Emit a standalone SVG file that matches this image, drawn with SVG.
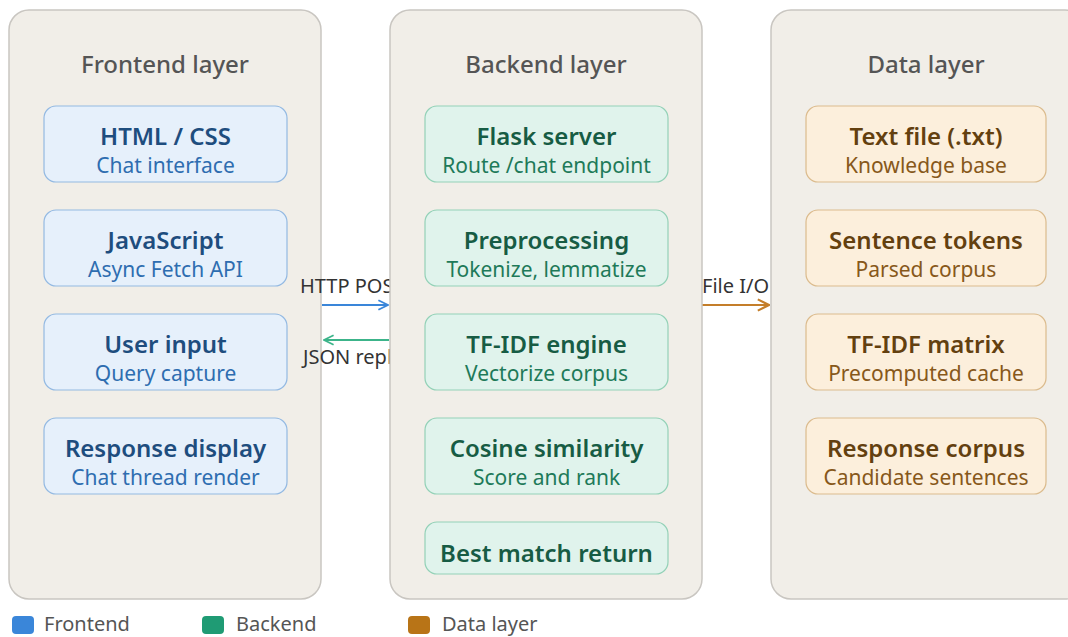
<svg xmlns="http://www.w3.org/2000/svg" width="1068" height="637" viewBox="0 0 1068 637">
<defs>
<style>
text{font-family:"Noto Sans","Liberation Sans",sans-serif;text-anchor:middle;dominant-baseline:central}
.panel{fill:#f1eee8;stroke:#c9c6c1;stroke-width:1.5}
.ptitle{font-size:24px;fill:#555;font-weight:500}
.fe rect{fill:#e6f0fb;stroke:#93b9e2;stroke-width:1.2}
.fe .t{fill:#1e4d7e;font-size:24px;font-weight:600}
.fe .s{fill:#2e6db0;font-size:21px}
.be rect{fill:#e0f3ec;stroke:#93d1b7;stroke-width:1.2}
.be .t{fill:#175c44;font-size:24px;font-weight:600}
.be .s{fill:#1e7a59;font-size:21px}
.dl rect{fill:#fcefdc;stroke:#dbbb8d;stroke-width:1.2}
.dl .t{fill:#63400f;font-size:24px;font-weight:600}
.dl .s{fill:#87581a;font-size:21px}
.lbl{font-size:20px;fill:#333;text-anchor:start}
.leg{font-size:20px;fill:#555;text-anchor:start}
</style>
<marker id="ab" viewBox="0 0 10 10" refX="9" refY="5" markerWidth="12" markerHeight="12" markerUnits="userSpaceOnUse" orient="auto"><path d="M1,1 L9,5 L1,9" fill="none" stroke="#3a86d9" stroke-width="1.5"/></marker>
<marker id="ag" viewBox="0 0 10 10" refX="9" refY="5" markerWidth="12" markerHeight="12" markerUnits="userSpaceOnUse" orient="auto"><path d="M1,1 L9,5 L1,9" fill="none" stroke="#3cb48a" stroke-width="1.5"/></marker>
<marker id="ao" viewBox="0 0 10 10" refX="9" refY="5" markerWidth="14" markerHeight="14" markerUnits="userSpaceOnUse" orient="auto"><path d="M1,1 L9,5 L1,9" fill="none" stroke="#c47e2a" stroke-width="1.5"/></marker>
</defs>
<rect width="1068" height="637" fill="#fff"/>
<g id="frontend-layer">
<rect class="panel" x="9" y="10" width="312" height="589" rx="20"/>
<text class="ptitle" x="165" y="63">Frontend layer</text>
</g>
<g id="connectors">
<text class="lbl" x="300" y="285">HTTP POST</text>
<text class="lbl" x="303" y="356">JSON reply</text>
<line x1="322" y1="305" x2="388" y2="305" stroke="#3a86d9" stroke-width="1.8" marker-end="url(#ab)"/>
<line x1="389" y1="340" x2="324" y2="340" stroke="#3cb48a" stroke-width="1.8" marker-end="url(#ag)"/>
<line x1="702" y1="305" x2="769" y2="305" stroke="#c47e2a" stroke-width="1.8" marker-end="url(#ao)"/>
</g>
<g id="backend-layer">
<rect class="panel" x="390" y="10" width="312" height="589" rx="20"/>
<text class="ptitle" x="546" y="63">Backend layer</text>
</g>
<g id="data-layer">
<rect class="panel" x="771" y="10" width="314" height="589" rx="20"/>
<text class="ptitle" x="926" y="63">Data layer</text>
</g>
<g id="file-io-label">
<text class="lbl" x="702" y="285">File I/O</text>
</g>
<g id="html-css" class="fe"><rect x="44" y="106" width="243" height="76" rx="12"/><text class="t" x="165.5" y="135">HTML / CSS</text><text class="s" x="165.5" y="165">Chat interface</text></g>
<g id="javascript" class="fe"><rect x="44" y="210" width="243" height="76" rx="12"/><text class="t" x="165.5" y="239">JavaScript</text><text class="s" x="165.5" y="269">Async Fetch API</text></g>
<g id="user-input" class="fe"><rect x="44" y="314" width="243" height="76" rx="12"/><text class="t" x="165.5" y="343">User input</text><text class="s" x="165.5" y="373">Query capture</text></g>
<g id="response-display" class="fe"><rect x="44" y="418" width="243" height="76" rx="12"/><text class="t" x="165.5" y="447">Response display</text><text class="s" x="165.5" y="477">Chat thread render</text></g>
<g id="flask-server" class="be"><rect x="425" y="106" width="243" height="76" rx="12"/><text class="t" x="546.5" y="135">Flask server</text><text class="s" x="546.5" y="165">Route /chat endpoint</text></g>
<g id="preprocessing" class="be"><rect x="425" y="210" width="243" height="76" rx="12"/><text class="t" x="546.5" y="239">Preprocessing</text><text class="s" x="546.5" y="269">Tokenize, lemmatize</text></g>
<g id="tfidf-engine" class="be"><rect x="425" y="314" width="243" height="76" rx="12"/><text class="t" x="546.5" y="343">TF-IDF engine</text><text class="s" x="546.5" y="373">Vectorize corpus</text></g>
<g id="cosine-similarity" class="be"><rect x="425" y="418" width="243" height="76" rx="12"/><text class="t" x="546.5" y="447">Cosine similarity</text><text class="s" x="546.5" y="477">Score and rank</text></g>
<g id="best-match" class="be"><rect x="425" y="522" width="243" height="52" rx="12"/><text class="t" x="546.5" y="552">Best match return</text></g>
<g id="text-file" class="dl"><rect x="806" y="106" width="240" height="76" rx="12"/><text class="t" x="926" y="135">Text file (.txt)</text><text class="s" x="926" y="165">Knowledge base</text></g>
<g id="sentence-tokens" class="dl"><rect x="806" y="210" width="240" height="76" rx="12"/><text class="t" x="926" y="239">Sentence tokens</text><text class="s" x="926" y="269">Parsed corpus</text></g>
<g id="tfidf-matrix" class="dl"><rect x="806" y="314" width="240" height="76" rx="12"/><text class="t" x="926" y="343">TF-IDF matrix</text><text class="s" x="926" y="373">Precomputed cache</text></g>
<g id="response-corpus" class="dl"><rect x="806" y="418" width="240" height="76" rx="12"/><text class="t" x="926" y="447">Response corpus</text><text class="s" x="926" y="477">Candidate sentences</text></g>
<g id="legend">
<rect x="12" y="616" width="22" height="18" rx="4" fill="#3a86d9"/><text class="leg" x="44" y="623">Frontend</text>
<rect x="202" y="616" width="22" height="18" rx="4" fill="#1f9b74"/><text class="leg" x="236" y="623">Backend</text>
<rect x="408" y="616" width="22" height="18" rx="4" fill="#b87417"/><text class="leg" x="442" y="623">Data layer</text>
</g>
</svg>
